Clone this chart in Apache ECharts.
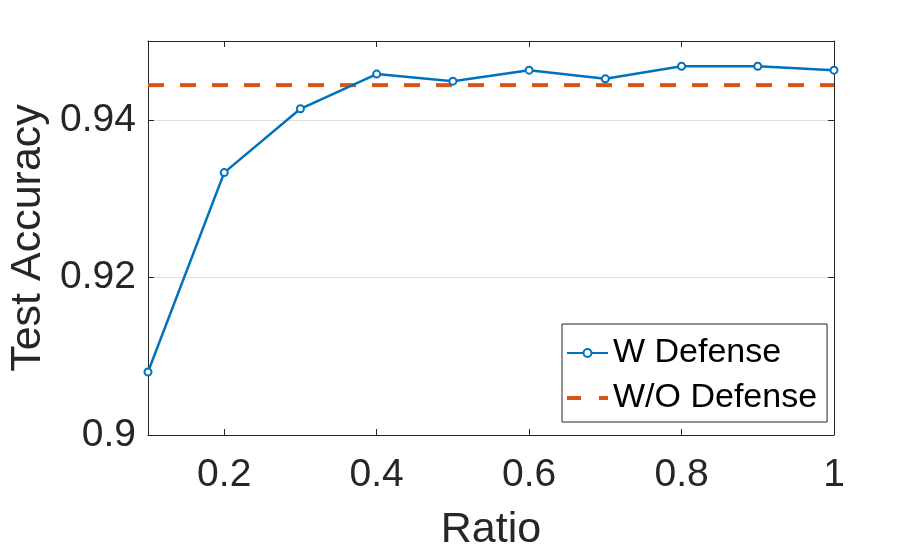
<!DOCTYPE html>
<html>
<head>
<meta charset="utf-8">
<script src="https://cdn.jsdelivr.net/npm/echarts@6/dist/echarts.min.js"></script>
<style>html,body{margin:0;padding:0;background:#fff;}#c{width:922px;height:553px;}</style>
</head>
<body>
<div id="c"></div>
<script>
const ratios = [0.1, 0.2, 0.3, 0.4, 0.5, 0.6, 0.7, 0.8, 0.9, 1.0];
const withDefense = [0.9080, 0.9333, 0.9414, 0.9458, 0.9449, 0.9463, 0.9452, 0.9468, 0.9468, 0.9463];
const withoutDefense = 0.9444;
const xTicks = [0.2, 0.4, 0.6, 0.8, 1];
const yTicks = [0.9, 0.92, 0.94];

const FONT = "'Liberation Sans', Arial, Helvetica, sans-serif";
const AX = '#262626';

const chart = echarts.init(document.getElementById('c'), null, {renderer: 'canvas'});

const xBase = {
  type: 'value', min: 0.1, max: 1,
  axisLine: {show: true, lineStyle: {color: AX, width: 1}},
  splitLine: {show: false},
};
const yBase = {
  type: 'value', min: 0.9, max: 0.95, interval: 0.02,
  axisLine: {show: true, lineStyle: {color: AX, width: 1}},
};

chart.setOption({
  animation: false,
  backgroundColor: '#fff',
  grid: {left: 148, right: 88, top: 41, bottom: 118, show: false, containLabel: false, outerBoundsMode: 'none'},
  xAxis: [
    Object.assign({}, xBase, {
      position: 'bottom',
      name: 'Ratio', nameLocation: 'middle', nameGap: 74,
      nameTextStyle: {fontFamily: FONT, fontSize: 43, color: AX},
      axisTick: {show: true, inside: true, length: 6, customValues: xTicks, lineStyle: {color: AX}},
      axisLabel: {show: true, customValues: xTicks, margin: 21, fontFamily: FONT, fontSize: 39, color: AX,
        formatter: v => String(+v.toFixed(2))}
    }),
    Object.assign({}, xBase, {
      position: 'top',
      axisTick: {show: true, inside: true, length: 6, customValues: xTicks, lineStyle: {color: AX}},
      axisLabel: {show: false}
    })
  ],
  yAxis: [
    Object.assign({}, yBase, {
      position: 'left',
      name: 'Test Accuracy', nameLocation: 'middle', nameGap: 97,
      nameTextStyle: {fontFamily: FONT, fontSize: 43, color: AX},
      axisTick: {show: true, inside: true, length: 6, customValues: yTicks, lineStyle: {color: AX}},
      axisLabel: {show: true, customValues: yTicks, margin: 12, fontFamily: FONT, fontSize: 39, color: AX,
        formatter: v => String(+v.toFixed(2))},
      splitLine: {show: true, lineStyle: {color: '#dfdfdf', width: 1}}
    }),
    Object.assign({}, yBase, {
      position: 'right',
      axisTick: {show: true, inside: true, length: 6, customValues: yTicks, lineStyle: {color: AX}},
      axisLabel: {show: false},
      splitLine: {show: false}
    })
  ],
  legend: {
    orient: 'vertical', left: 562, top: 324,
    padding: [12, 10, 7, 4], itemGap: 11,
    itemWidth: 41, itemHeight: 10,
    backgroundColor: '#fff', borderColor: '#262626', borderWidth: 1,
    textStyle: {fontFamily: FONT, fontSize: 34, color: '#000'},
    data: [
      {name: 'W Defense'},
      {name: 'W/O Defense', icon: 'path://M0,0H14V4H0Z M32,0H41V4H32Z',
       itemStyle: {color: '#D95319', borderWidth: 0}}
    ]
  },
  series: [
    {
      name: 'W Defense', type: 'line',
      data: ratios.map((r, i) => [r, withDefense[i]]),
      symbol: 'emptyCircle', symbolSize: 7,
      lineStyle: {color: '#0072BD', width: 2.5},
      itemStyle: {color: '#0072BD', borderWidth: 2.6},
      z: 3
    },
    {
      name: 'W/O Defense', type: 'line',
      data: [[ratios[0], withoutDefense], [ratios[ratios.length - 1], withoutDefense]],
      symbol: 'none',
      lineStyle: {color: '#D95319', width: 4, type: [16, 16]},
      itemStyle: {color: '#D95319'},
      z: 2
    }
  ]
});
</script>
</body>
</html>
